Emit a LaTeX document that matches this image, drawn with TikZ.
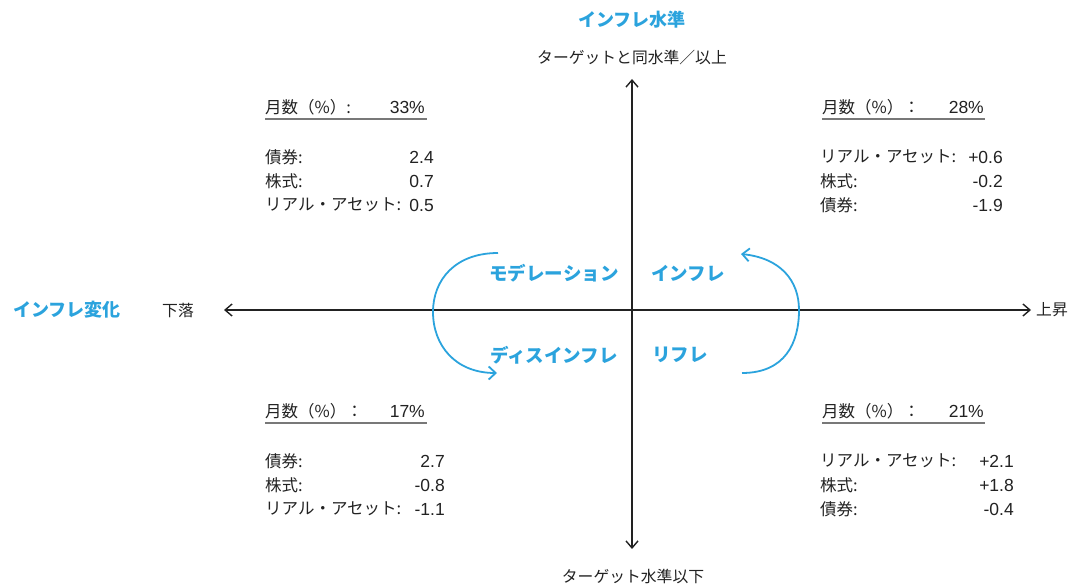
\documentclass[tikz,border=0pt]{standalone}
\usepackage{fontspec}
\setmainfont{Noto Sans CJK JP}
\newfontfamily\numfont{Liberation Sans}
\usetikzlibrary{arrows.meta}
\definecolor{qblue}{RGB}{43,163,221}
\definecolor{qtext}{RGB}{34,34,34}
\definecolor{qline}{RGB}{120,120,120}
\begin{document}
\begin{tikzpicture}[x=1pt,y=-1pt,
  title/.style={font=\fontsize{18}{20}\selectfont\bfseries, text=qblue, inner sep=0},
  axlabel/.style={font=\fontsize{15.8}{17}\selectfont, text=qtext, inner sep=0},
  phase/.style={font=\fontsize{18.5}{20}\selectfont\bfseries, text=qblue, inner sep=0},
  lbl/.style={font=\fontsize{16.5}{19}\selectfont, text=qtext, anchor=west, inner sep=0},
  val/.style={font=\numfont\fontsize{17.5}{19}\selectfont, text=qtext, anchor=east, inner sep=0},
  axis/.style={line width=1.4pt, draw=qtext, -{Straight Barb[length=7pt,width=12pt]}},
  cycle/.style={line width=1.8pt, draw=qblue, -{Straight Barb[length=7pt,width=13pt]}},
  uline/.style={line width=2pt, draw=qline}
]
\useasboundingbox (0,0) rectangle (1078,585);

% axes
\coordinate (o) at (632,310);
\coordinate (top) at (632,79);
\coordinate (bot) at (632,549);
\coordinate (lft) at (224,310);
\coordinate (rgt) at (1031,310);
\draw[axis] (o) -- (top);
\draw[axis] (o) -- (bot);
\draw[axis] (o) -- (lft);
\draw[axis] (o) -- (rgt);

% axis labels
\node[title] (tY) at (632,20) {インフレ水準};
\node[axlabel] (tYup) at (632,57) {ターゲットと同水準／以上};
\node[axlabel] (tYdn) at (633,576) {ターゲット水準以下};
\node[title] (tX) at (67,310) {インフレ変化};
\node[axlabel] (tXl) at (178,310) {下落};
\node[axlabel] (tXr) at (1052,310) {上昇};

% phases
\node[phase] (pMod) at (554,273) {モデレーション};
\node[phase] (pInf) at (688,273) {インフレ};
\node[phase] (pDis) at (554,355) {ディスインフレ};
\node[phase] (pRef) at (680,355) {リフレ};

% cycle arrows
\coordinate (la) at (498,253);
\coordinate (lm) at (433,312);
\coordinate (lb) at (497,373);
\draw[cycle] (la) .. controls (455,253) and (433,280) .. (lm)
  .. controls (433,345) and (455,373) .. (lb);
\coordinate (ra) at (742,373);
\coordinate (rm) at (799,310);
\coordinate (rb) at (741,254);
\draw[cycle] (ra) .. controls (785,373) and (799,343) .. (rm)
  .. controls (799,280) and (780,258) .. (rb);

% top-left quadrant
\node[lbl] (h1) at (265,107) {月数（\%）:};
\node[val] (h1v) at (425,107) {33\%};
\draw[uline] (265,119) -- (427,119);
\node[lbl] (a1) at (265,157) {債券:};
\node[val] (a1v) at (434,157) {2.4};
\node[lbl] (b1) at (265,181) {株式:};
\node[val] (b1v) at (434,181) {0.7};
\node[lbl] (c1) at (265,205) {リアル・アセット:};
\node[val] (c1v) at (434,205) {0.5};

% top-right quadrant
\node[lbl] (h2) at (822,107) {月数（\%）：};
\node[val] (h2v) at (984,107) {28\%};
\draw[uline] (822,119) -- (985,119);
\node[lbl] (a2) at (820,157) {リアル・アセット:};
\node[val] (a2v) at (1003,157) {+0.6};
\node[lbl] (b2) at (820,181) {株式:};
\node[val] (b2v) at (1003,181) {-0.2};
\node[lbl] (c2) at (820,205) {債券:};
\node[val] (c2v) at (1003,205) {-1.9};

% bottom-left quadrant
\node[lbl] (h3) at (265,411) {月数（\%）：};
\node[val] (h3v) at (425,411) {17\%};
\draw[uline] (265,423) -- (427,423);
\node[lbl] (a3) at (265,461) {債券:};
\node[val] (a3v) at (445,461) {2.7};
\node[lbl] (b3) at (265,485) {株式:};
\node[val] (b3v) at (445,485) {-0.8};
\node[lbl] (c3) at (265,509) {リアル・アセット:};
\node[val] (c3v) at (445,509) {-1.1};

% bottom-right quadrant
\node[lbl] (h4) at (822,411) {月数（\%）：};
\node[val] (h4v) at (984,411) {21\%};
\draw[uline] (822,423) -- (985,423);
\node[lbl] (a4) at (820,461) {リアル・アセット:};
\node[val] (a4v) at (1014,461) {+2.1};
\node[lbl] (b4) at (820,485) {株式:};
\node[val] (b4v) at (1014,485) {+1.8};
\node[lbl] (c4) at (820,509) {債券:};
\node[val] (c4v) at (1014,509) {-0.4};
\end{tikzpicture}
\end{document}
